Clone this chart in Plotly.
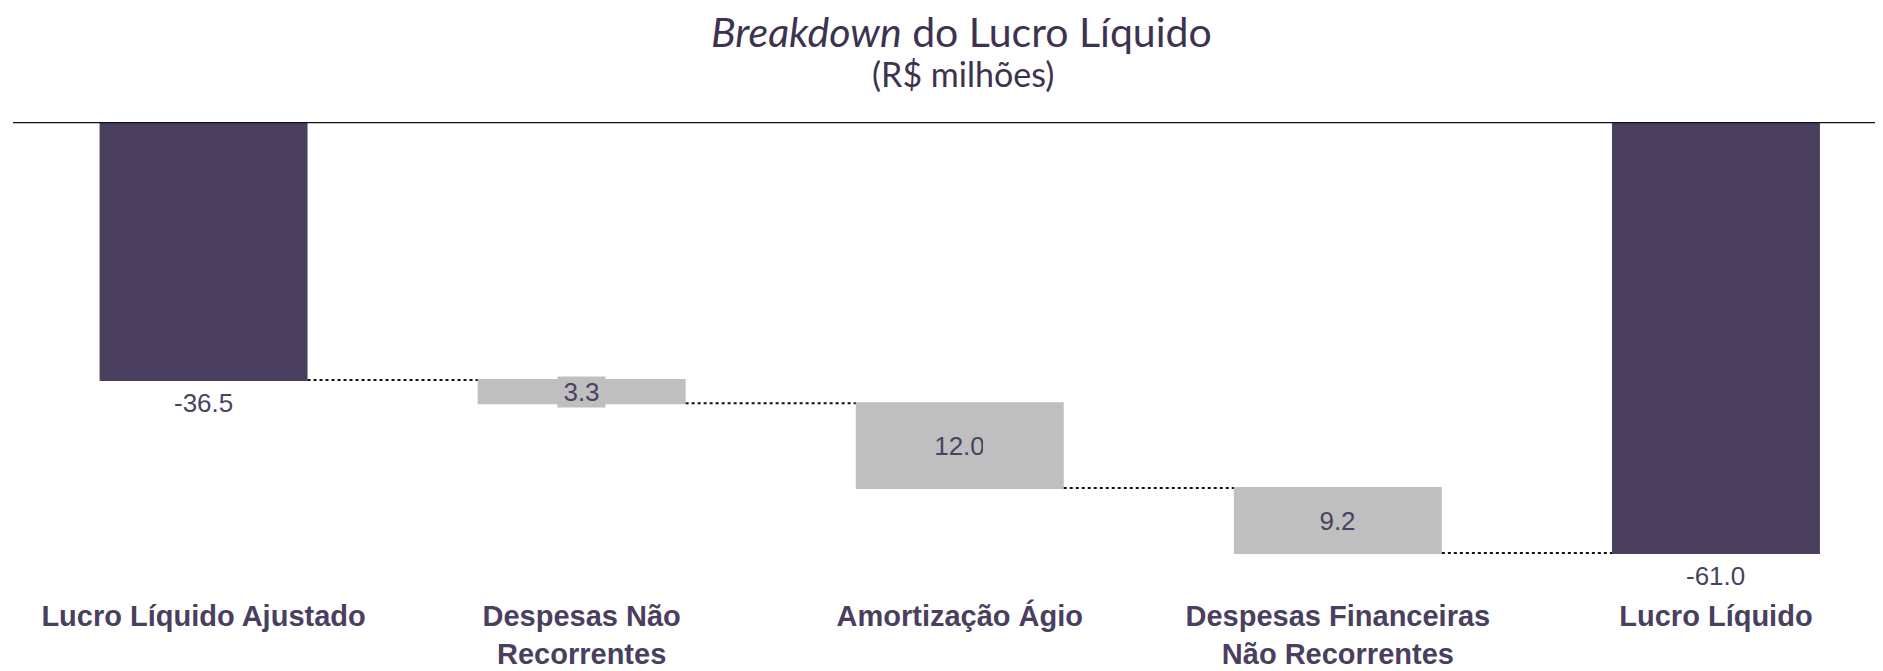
import plotly.graph_objects as go

# ---- data ----
categories = ["Lucro Líquido Ajustado", "Despesas Não Recorrentes", "Amortização Ágio",
              "Despesas Financeiras Não Recorrentes", "Lucro Líquido"]
tick_labels = ["Lucro Líquido Ajustado", "Despesas Não<br>Recorrentes", "Amortização Ágio",
               "Despesas Financeiras<br>Não Recorrentes", "Lucro Líquido"]
values = [-36.5, -3.3, -12.0, -9.2, -61.0]
measures = ["absolute", "relative", "relative", "relative", "total"]
value_labels = ["-36.5", "3.3", "12.0", "9.2", "-61.0"]

DARK = "#4a3f5e"
GRAY = "#bfbfbf"
TXT = "#4a4262"

# page body has an 8px default margin; compensate
OFF = 8
W, H = 1883 - OFF, 671 - OFF
ML, MR, MT, MB = 13 - OFF, 0, 122 - OFF, 75  # plot bottom at page y=596

fig = go.Figure()
fig.add_trace(go.Waterfall(
    x=categories, y=values, measure=measures,
    width=0.55,
    totals=dict(marker=dict(color=DARK, line=dict(width=0))),
    decreasing=dict(marker=dict(color=GRAY, line=dict(width=0))),
    increasing=dict(marker=dict(color=GRAY, line=dict(width=0))),
    connector=dict(mode="between", line=dict(color="#111111", width=2, dash="dot")),
    hoverinfo="skip",
    textinfo="none",
))

# value labels derived from the data
annotations = []
cum = 0.0
for cat, v, m, lab in zip(categories, values, measures, value_labels):
    if m == "absolute":
        start, end = 0.0, v
        cum = v
    elif m == "relative":
        start, end = cum, cum + v
        cum = end
    else:
        start, end = 0.0, cum
    if m == "relative":
        annotations.append(dict(
            x=cat, y=(start + end) / 2, xref="x", yref="y", text=lab, showarrow=False,
            font=dict(family="Liberation Sans", size=26, color=TXT),
            bgcolor=GRAY, width=47, height=30, borderpad=0,
            xanchor="center", yanchor="middle"))
    else:
        annotations.append(dict(
            x=cat, y=end, xref="x", yref="y", text=lab, showarrow=False,
            font=dict(family="Liberation Sans", size=26, color=TXT),
            xanchor="center", yanchor="top", yshift=-6))

plot_w = W - ML - MR
plot_h = H - MT - MB
# title & subtitle (page pixel targets converted to paper coords)
annotations.append(dict(
    text="<i>Breakdown</i> do Lucro Líquido", xref="paper", yref="paper",
    x=(962 - OFF - ML) / plot_w, y=(H - MB - (31 - OFF)) / plot_h,
    xanchor="center", yanchor="middle", showarrow=False,
    font=dict(family="Lato", size=41, color="#3d3350")))
annotations.append(dict(
    text="(R$ milhões)", xref="paper", yref="paper",
    x=(963 - OFF - ML) / plot_w, y=(H - MB - (73 - OFF)) / plot_h,
    xanchor="center", yanchor="middle", showarrow=False,
    font=dict(family="Lato", size=34, color="#3d3350")))

px_per_unit = 431 / 61.0
ymin = -plot_h / px_per_unit

fig.update_layout(
    width=W, height=H,
    margin=dict(l=ML, r=MR, t=MT, b=MB, pad=0, autoexpand=False),
    paper_bgcolor="white", plot_bgcolor="white",
    showlegend=False,
    annotations=annotations,
    shapes=[dict(type="line", xref="paper", yref="y", x0=0, x1=1, y0=0, y1=0,
                 line=dict(color="#111111", width=2.5), layer="above")],
    xaxis=dict(range=[-0.504, -0.504 + plot_w / 378.1], tickmode="array",
               tickvals=categories, ticktext=tick_labels, automargin=False,
               showgrid=False, zeroline=False, showline=False, ticks="",
               tickfont=dict(family="Liberation Sans", size=29, color=DARK, weight="bold")),
    yaxis=dict(range=[ymin, 0], showgrid=False, zeroline=False, showline=False,
               showticklabels=False, ticks="", automargin=False),
)

fig.write_html("out.html")
